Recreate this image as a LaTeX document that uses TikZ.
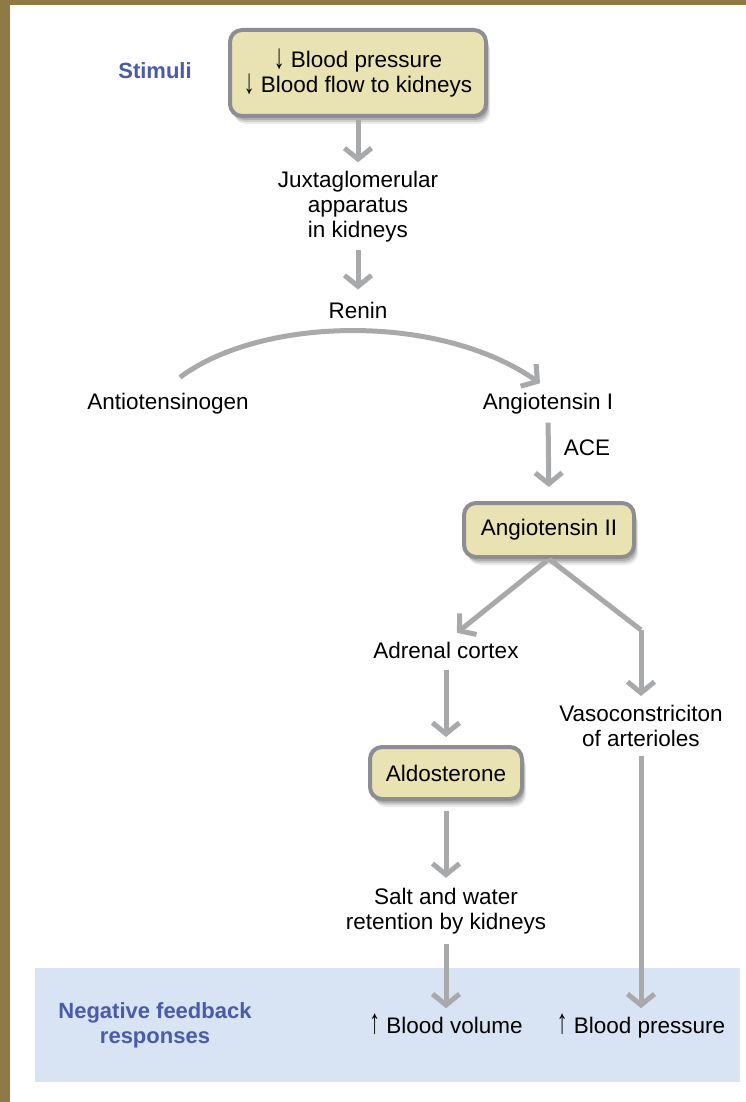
\documentclass[tikz,border=0pt]{standalone}
\usepackage{fontspec}
\usepackage{graphicx}
\setmainfont{Liberation Sans}
\usetikzlibrary{arrows.meta,calc,shadows}
\definecolor{brownbg}{HTML}{8F7A45}
\definecolor{boxfill}{HTML}{E9E2B3}
\definecolor{boxline}{HTML}{8C8E91}
\definecolor{arrowgray}{HTML}{A8A9AB}
\definecolor{labelblue}{HTML}{4B5BA6}
\definecolor{bandblue}{HTML}{D8E4F3}
\newcommand{\dnarr}{\raisebox{-0.5pt}{\scalebox{0.95}[1.55]{↓}}}
\newcommand{\uparr}{\raisebox{0pt}{\scalebox{0.95}[1.55]{↑}}}
\tikzset{
  txt/.style={inner sep=0pt, align=center, font=\fontsize{22.5}{25}\selectfont},
  lbl/.style={inner sep=0pt, align=center, text=labelblue, font=\fontsize{22}{25}\selectfont\bfseries},
  keybox/.style={txt, draw=boxline, line width=4pt, fill=boxfill, rounded corners=12pt,
    copy shadow={shadow xshift=2pt, shadow yshift=-4pt, opacity=0.15, fill=black, draw=none},
    copy shadow={shadow xshift=3pt, shadow yshift=-6pt, opacity=0.12, fill=black, draw=none},
    copy shadow={shadow xshift=4pt, shadow yshift=-8pt, opacity=0.08, fill=black, draw=none}},
  flow/.style={draw=arrowgray, line width=5pt, -{Straight Barb[length=11pt, width=27pt]}},
  flowline/.style={draw=arrowgray, line width=5pt, line join=miter}
}
\begin{document}
\begin{tikzpicture}[x=1pt, y=-1pt]
\useasboundingbox (0,0) rectangle (746,1102);
\fill[brownbg] (0,0) rectangle (746,1102);
\fill[white] (10,5) rectangle (746,1102);
\fill[bandblue] (35,968) rectangle (740,1082);

\node[lbl] (stimlabel) at (155,71) {Stimuli};
\node[keybox, minimum width=256pt, minimum height=86pt] (stim) at (358,73)
  {\dnarr\ Blood pressure\\ \dnarr\ Blood flow to kidneys};
\node[txt] (jga) at (358,207) {Juxtaglomerular\\apparatus\\in kidneys};
\node[txt] (renin) at (358,310) {Renin};
\node[txt] (agen) at (168,404) {Antiotensinogen};
\node[txt] (ang1) at (548,404) {Angiotensin I};
\node[txt] (ace) at (587,448) {ACE};
\node[keybox, minimum width=170pt, minimum height=54pt] (ang2) at (549,530) {Angiotensin II};
\node[txt] (adr) at (446,650) {Adrenal cortex};
\node[keybox, minimum width=152pt, minimum height=52pt] (aldo) at (446,773) {Aldosterone};
\node[txt] (salt) at (446,911) {Salt and water\\retention by kidneys};
\node[txt] (vaso) at (641,726) {Vasoconstriciton\\of arterioles};
\node[lbl] (neg) at (155,1025) {Negative feedback\\responses};
\node[txt, anchor=base] (bv) at (446,1033) {\uparr\ Blood volume};
\node[txt, anchor=base] (bp) at (641,1033) {\uparr\ Blood pressure};

\coordinate (bend) at (641,630);

\draw[flow, shorten <=2pt, shorten >=9pt] (stim.south) -- (jga.north);
\draw[flow, shorten <=7pt, shorten >=12pt] (jga.south) -- (renin.north);
\draw[flow] ($(agen.north)+(12,-16)$) .. controls (262,316) and (440,313) .. ($(ang1.north)+(-8,-10)$);
\draw[flow, shorten <=8pt, shorten >=14pt] (ang1.south) -- (ang2.north);
\draw[flow, shorten <=3pt, shorten >=14pt] (ang2.south) -- (adr.north);
\draw[flowline] (ang2.south) -- (bend);
\draw[flow, shorten >=9pt] (bend) -- (vaso.north);
\draw[flow, shorten <=12pt, shorten >=8pt] (adr.south) -- (aldo.north);
\draw[flow, shorten <=10pt, shorten >=10pt] (aldo.south) -- (salt.north);
\draw[flow, shorten <=10pt, shorten >=5pt] (salt.south) -- (bv.north);
\draw[flow, shorten <=9pt, shorten >=5pt] (vaso.south) -- (bp.north);
\end{tikzpicture}
\end{document}
